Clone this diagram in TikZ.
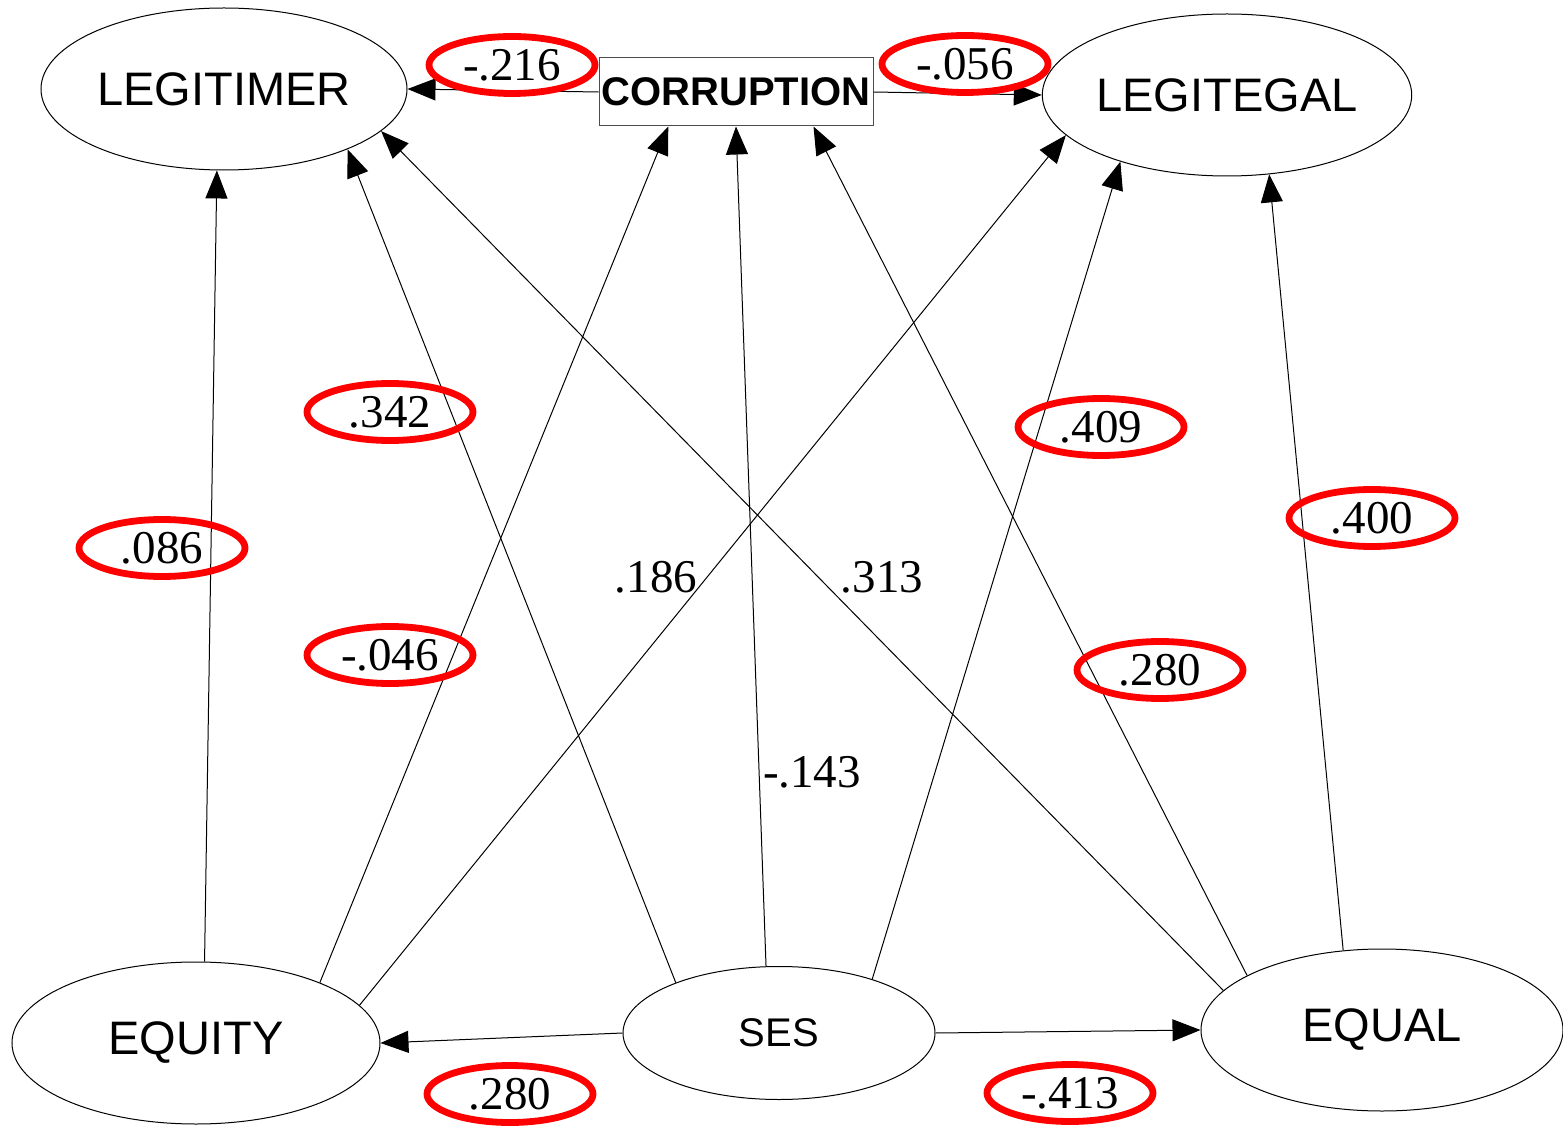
\documentclass[tikz,border=0pt]{standalone}
\usepackage{fontspec}
\setmainfont{Liberation Serif}
\newfontfamily\arialfont{Liberation Sans}
\usetikzlibrary{arrows.meta,shapes.geometric}

\tikzset{
  var/.style={ellipse,draw,line width=0.5pt,inner sep=0pt,
    minimum width=183pt,minimum height=81pt,
    font=\arialfont\fontsize{23.5}{23.5}\selectfont},
  coef/.style={ellipse,draw=red,line width=3.4pt,inner sep=0pt,
    minimum width=83pt,minimum height=28.5pt,
    font=\fontsize{23.5}{23.5}\selectfont},
  est/.style={font=\fontsize{23.5}{23.5}\selectfont},
  link/.style={-{Triangle[length=14pt,width=11pt]},line width=0.5pt}
}

\begin{document}
\begin{tikzpicture}[x=0.5pt,y=-0.5pt]
\useasboundingbox (0,0) rectangle (1563,1128);

\node[var] (legitimer) at (224,89) {LEGITIMER};
\node[var] (legitegal) at (1227,95) {LEGITEGAL};
\node[var,minimum width=184pt] (equity) at (196,1043) {EQUITY};
\node[var,minimum width=156pt,minimum height=66.5pt,font=\arialfont\fontsize{20}{20}\selectfont] (ses) at (779,1033) {SES};
\node[var,minimum width=181pt] (equal) at (1382,1030) {EQUAL};
\node[draw=black!70,line width=0.5pt,inner sep=0pt,minimum width=137pt,minimum height=34pt,
  font=\arialfont\bfseries\fontsize{20}{20}\selectfont] (corruption) at (736,92) {CORRUPTION};

\draw[link] (corruption.west) -- (legitimer.east);
\draw[link] (corruption.east) -- (legitegal.west);
\draw[link] (equity.84) -- (legitimer.-95);
\draw[link] (ses.154.5) -- (legitimer.-26.7);
\draw[link] (equity.26) -- (corruption.-153.4);
\draw[link] (equity.13.9) -- (legitegal.-166);
\draw[link] (ses.101) -- (corruption.south);
\draw[link] (equal.166) -- (legitimer.-15.8);
\draw[link] (ses.30) -- (legitegal.-148.3);
\draw[link] (equal.158.4) -- (corruption.-24.7);
\draw[link] (equal.116) -- (legitegal.-62.3);
\draw[link] (ses.west) -- (equity.east);
\draw[link] (ses.east) -- (equal.west);

\node[coef] (c1) at (512,65) {-.216};
\node[coef] (c2) at (965,64) {-.056};
\node[coef] (c3) at (390,412) {.342};
\node[coef] (c4) at (162,548) {.086};
\node[coef] (c5) at (390,655) {-.046};
\node[coef] (c6) at (1101,427) {.409};
\node[coef] (c7) at (1372,518) {.400};
\node[coef] (c8) at (1160,670) {.280};
\node[coef] (c9) at (510,1094) {.280};
\node[coef] (c10) at (1070,1093) {-.413};
\node[est] (e1) at (656,577) {.186};
\node[est] (e2) at (882,577) {.313};
\node[est] (e3) at (812,772) {-.143};

\end{tikzpicture}
\end{document}
